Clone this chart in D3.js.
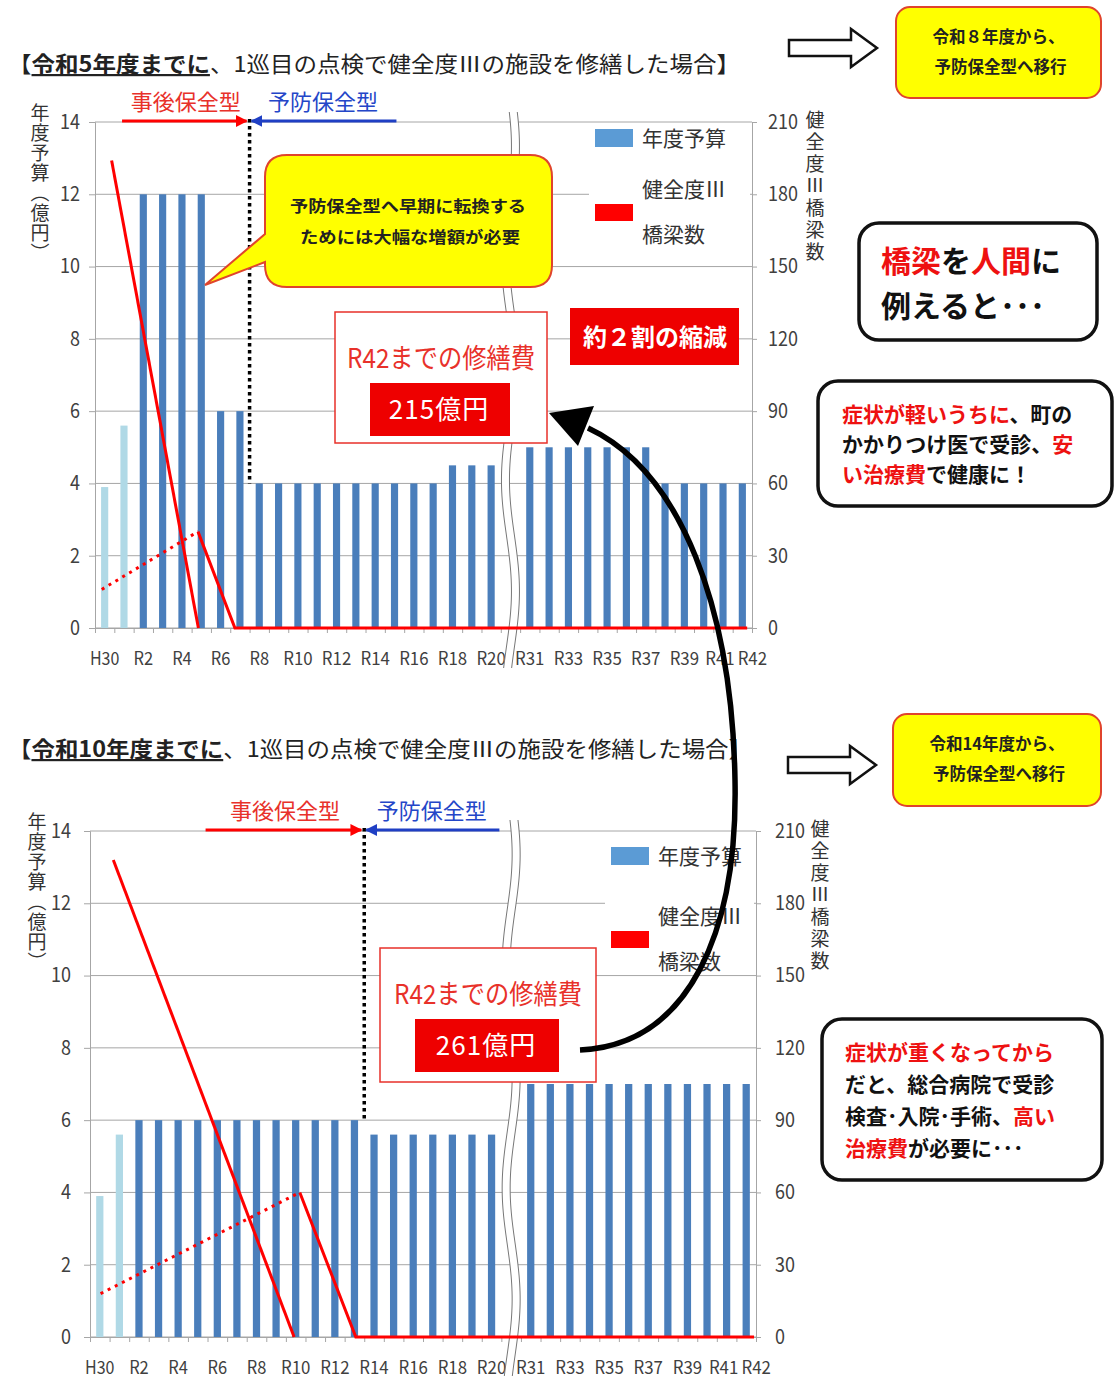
<!DOCTYPE html>
<html><head><meta charset="utf-8">
<script src="https://cdn.jsdelivr.net/npm/d3@7"></script>
<style>
body{margin:0;background:#fff;}
svg text{font-family:"Noto Sans CJK JP","Noto Sans",sans-serif;}
</style></head><body>
<svg id="c" width="1114" height="1380"></svg>
<script>
// ---------- DATA ----------
const categories = ["H30","R1","R2","R3","R4","R5","R6","R7","R8","R9","R10","R11","R12","R13","R14","R15","R16","R17","R18","R19","R20","～",
  "R31","R32","R33","R34","R35","R36","R37","R38","R39","R40","R41","R42"];
const tickLabels = ["H30","R2","R4","R6","R8","R10","R12","R14","R16","R18","R20","R31","R33","R35","R37","R39","R41","R42"];
const lightCategories = ["H30","R1"];
const leftTicks = [0,2,4,6,8,10,12,14];
const rightTicks = [0,30,60,90,120,150,180,210];

// 年度予算 (億円)  – top scenario (令和5年度までに修繕)
const topBudget = [3.9,5.6,12,12,12,12,6,6,4,4,4,4,4,4,4,4,4,4,4.5,4.5,4.5,null,5,5,5,5,5,5,5,4,4,4,4,4];
// 年度予算 (億円)  – bottom scenario (令和10年度までに修繕)
const bottomBudget = [3.9,5.6,6,6,6,6,6,6,6,6,6,6,6,6,5.6,5.6,5.6,5.6,5.6,5.6,5.6,null,7,7,7,7,7,7,7,7,7,7,7,7];

// 健全度Ⅲ橋梁数 (position in category slots, value)
const topBridgeSolidPos = [0.86, 5.35],  topBridgeSolidVal = [194, 0];
const topBridgeDotPos   = [0.35, 5.33],  topBridgeDotVal   = [16, 40];
const topBridgeAfterPos = [5.33, 7.24, 33.75], topBridgeAfterVal = [40, 0, 0];
const botBridgeSolidPos = [1.19, 10.42], botBridgeSolidVal = [198, 0];
const botBridgeDotPos   = [0.54, 10.71], botBridgeDotVal   = [18, 60];
const botBridgeAfterPos = [10.71, 13.57, 33.9], botBridgeAfterVal = [60, 0, 0];

// switch from 事後保全型 to 予防保全型 (slot boundary) and arrow extents
const topSwitch = {slot: 8, value: 4, redFrom: 1.4, blueTo: 15.6};
const botSwitch = {slot: 14, value: 6, redFrom: 5.9, blueTo: 20.9};

// ---------- DRAW ----------
const svg = d3.select("#c");
const RED = "#ff0000", BLUE = "#4a7ebb", LIGHT = "#b0d9e6", LEG_BLUE = "#5b9bd5", GRID = "#a6a6a6";
const defs = svg.append("defs");
function marker(id, color){
  defs.append("marker").attr("id",id).attr("viewBox","0 0 10 10").attr("refX",9).attr("refY",5)
    .attr("markerWidth",4).attr("markerHeight",4).attr("orient","auto")
    .append("path").attr("d","M0,0L10,5L0,10Z").attr("fill",color);
}
marker("arrRed", RED); marker("arrBlue", "#1f3fc4");

function vText(x, y, str, size, spacing){
  svg.append("text").attr("x",x).attr("y",y).attr("font-size",size)
    .attr("fill","#333").style("writing-mode","vertical-rl").style("letter-spacing",spacing+"px").text(str);
}

function drawChart(cfg){
  const g = svg.append("g");
  const n = categories.length;
  const x = d3.scaleBand().domain(categories).range([cfg.x0,cfg.x1]).paddingInner(0.63).paddingOuter(0.315);
  const xs = d3.scaleLinear().domain([0,n]).range([cfg.x0,cfg.x1]);
  const yL = d3.scaleLinear().domain([0,14]).range([cfg.yB,cfg.yT]);
  const yR = d3.scaleLinear().domain([0,210]).range([cfg.yB,cfg.yT]);

  // gridlines
  g.selectAll(".grid").data(leftTicks).join("line")
    .attr("x1",cfg.x0).attr("x2",cfg.x1).attr("y1",d=>yL(d)).attr("y2",d=>yL(d))
    .attr("stroke",GRID).attr("stroke-width",1);

  // axes
  const la = g.append("g").attr("transform",`translate(${cfg.x0},0)`)
    .call(d3.axisLeft(yL).tickValues(leftTicks).tickSize(6).tickPadding(cfg.lPad));
  const ra = g.append("g").attr("transform",`translate(${cfg.x1},0)`)
    .call(d3.axisRight(yR).tickValues(rightTicks).tickSize(5).tickPadding(cfg.rPad));
  const ba = g.append("g").attr("transform",`translate(0,${cfg.yB})`)
    .call(d3.axisBottom(xs).tickValues(d3.range(0,n+1)).tickSize(5).tickFormat(""));
  [la,ra,ba].forEach(a=>{
    a.attr("font-size",20).attr("font-family",null);
    a.selectAll("path,line").attr("stroke",GRID);
    a.selectAll("text").attr("fill","#404040");
  });
  ra.selectAll("text").attr("textLength",function(){return this.textContent.length*10;}).attr("lengthAdjust","spacingAndGlyphs");
  la.selectAll("text").attr("textLength",function(){return this.textContent.length*10;}).attr("lengthAdjust","spacingAndGlyphs");
  const labShift = {"R41":-3, "R42":10};
  g.selectAll(".cat").data(tickLabels).join("text")
    .attr("x",d=>x(d)+x.bandwidth()/2+(labShift[d]||0)).attr("y",cfg.yB+37)
    .attr("text-anchor","middle").attr("font-size",18).attr("fill","#404040")
    .attr("textLength",d=>d.length*9.8).attr("lengthAdjust","spacingAndGlyphs").text(d=>d);

  // legend background and legend
  g.append("rect").attr("x",cfg.leg.x-6).attr("y",cfg.leg.y-4).attr("width",cfg.x1-cfg.leg.x+4)
    .attr("height",cfg.leg.h).attr("fill","#fff");
  g.append("rect").attr("x",cfg.leg.x).attr("y",cfg.leg.y).attr("width",38).attr("height",18).attr("fill",LEG_BLUE);
  g.append("text").attr("x",cfg.leg.x+47).attr("y",cfg.leg.y+17).attr("font-size",21).attr("fill","#333").text("年度予算");
  g.append("rect").attr("x",cfg.leg.x).attr("y",cfg.leg.y+cfg.leg.dr).attr("width",38).attr("height",17).attr("fill",RED);
  g.append("text").attr("x",cfg.leg.x+47).attr("y",cfg.leg.y+cfg.leg.dr-7).attr("font-size",21).attr("fill","#333").text("健全度Ⅲ");
  g.append("text").attr("x",cfg.leg.x+47).attr("y",cfg.leg.y+cfg.leg.dr+38).attr("font-size",21).attr("fill","#333").text("橋梁数");

  // bars
  g.selectAll(".bar").data(categories.map((c,i)=>({c, v:cfg.budget[i]})).filter(d=>d.v!=null)).join("rect")
    .attr("x",d=>x(d.c)).attr("width",x.bandwidth())
    .attr("y",d=>yL(d.v)).attr("height",d=>cfg.yB-yL(d.v))
    .attr("fill",d=>lightCategories.includes(d.c)?LIGHT:BLUE);

  // axis break (double wavy line)
  const xc = x("～")+x.bandwidth()/2;
  const pts = d3.range(cfg.breakY0, cfg.breakY1+1, 4);
  const wav = y => xc + 5*Math.sin((y-cfg.breakY0)/(cfg.breakY1-cfg.breakY0)*Math.PI*5 + 0.6);
  const left = pts.map(y=>[wav(y)-4,y]), right = pts.map(y=>[wav(y)+4,y]);
  g.append("path").attr("d",d3.line()(left.concat(right.slice().reverse()))+"Z").attr("fill","#fff");
  g.append("path").attr("d",d3.line()(left)).attr("fill","none").attr("stroke","#777").attr("stroke-width",1);
  g.append("path").attr("d",d3.line()(right)).attr("fill","none").attr("stroke","#777").attr("stroke-width",1);

  // 健全度Ⅲ橋梁数 lines
  const ln = d3.line().x(d=>xs(d[0])).y(d=>yR(d[1]));
  const zip = (p,v)=>p.map((d,i)=>[d,v[i]]);
  g.append("path").attr("d",ln(zip(cfg.solidPos,cfg.solidVal))).attr("fill","none").attr("stroke",RED).attr("stroke-width",3);
  g.append("path").attr("d",ln(zip(cfg.dotPos,cfg.dotVal))).attr("fill","none").attr("stroke",RED)
    .attr("stroke-width",3).attr("stroke-dasharray","3,5");
  g.append("path").attr("d",ln(zip(cfg.afterPos,cfg.afterVal))).attr("fill","none").attr("stroke",RED)
    .attr("stroke-width",3).attr("stroke-linejoin","miter");

  // switch dotted line
  const sx = xs(cfg.sw.slot);
  g.append("line").attr("x1",sx).attr("x2",sx).attr("y1",yL(14)-3).attr("y2",yL(cfg.sw.value))
    .attr("stroke","#000").attr("stroke-width",3.5).attr("stroke-dasharray","3.5,3.5");
  // arrows 事後保全型 / 予防保全型
  const ay = yL(14)-1;
  g.append("line").attr("x1",xs(cfg.sw.redFrom)).attr("x2",sx-3).attr("y1",ay).attr("y2",ay)
    .attr("stroke",RED).attr("stroke-width",3).attr("marker-end","url(#arrRed)");
  g.append("line").attr("x1",xs(cfg.sw.blueTo)).attr("x2",sx+2).attr("y1",ay).attr("y2",ay)
    .attr("stroke","#1f3fc4").attr("stroke-width",3).attr("marker-end","url(#arrBlue)");
  g.append("text").attr("x",(xs(cfg.sw.redFrom)+sx)/2).attr("y",ay-11).attr("text-anchor","middle")
    .attr("font-size",22).attr("fill","#e8312a").text("事後保全型");
  g.append("text").attr("x",(xs(cfg.sw.blueTo)+sx)/2).attr("y",ay-11).attr("text-anchor","middle")
    .attr("font-size",22).attr("fill","#2446c8").text("予防保全型");

  // cost box
  const b = cfg.cost;
  g.append("rect").attr("x",b.x).attr("y",b.y).attr("width",b.w).attr("height",b.h)
    .attr("fill","#fff").attr("stroke","#e8312a").attr("stroke-width",1.5);
  g.append("text").attr("x",b.x+b.w/2).attr("y",b.y+56).attr("text-anchor","middle").attr("font-size",27)
    .attr("fill","#e8312a").attr("textLength",188).attr("lengthAdjust","spacingAndGlyphs").text("R42までの修繕費");
  g.append("rect").attr("x",b.x+35).attr("y",b.y+71).attr("width",b.w-72).attr("height",53).attr("fill","#ee0000");
  g.append("text").attr("x",b.x+b.w/2-2).attr("y",b.y+107).attr("text-anchor","middle").attr("font-size",26)
    .attr("fill","#fff").attr("letter-spacing",1).text(b.label);

  // left/right axis titles
  vText(cfg.lTitleX, cfg.yT-19, "年度予算（億円）", 19, 1);
  vText(cfg.rTitleX, cfg.yT-12, "健全度Ⅲ橋梁数", 19, 3);
  return {x, xs, yL, yR};
}

// titles
function title(y, bold, rest, len){
  const t = svg.append("text").attr("x",8).attr("y",y).attr("font-size",22).attr("fill","#222")
    .attr("textLength",len).attr("lengthAdjust","spacingAndGlyphs");
  t.append("tspan").text("【");
  t.append("tspan").attr("font-weight","bold").style("text-decoration","underline").text(bold);
  t.append("tspan").text(rest);
}
title(72, "令和5年度までに", "、1巡目の点検で健全度Ⅲの施設を修繕した場合】", 732);
title(757, "令和10年度までに", "、1巡目の点検で健全度Ⅲの施設を修繕した場合】", 744);

drawChart({x0:95, x1:752, yT:122, yB:628, lPad:9, rPad:11, budget:topBudget,
  solidPos:topBridgeSolidPos, solidVal:topBridgeSolidVal, dotPos:topBridgeDotPos, dotVal:topBridgeDotVal,
  afterPos:topBridgeAfterPos, afterVal:topBridgeAfterVal, sw:topSwitch,
  leg:{x:595, y:129, h:128, dr:75}, breakY0:112, breakY1:668,
  cost:{x:335, y:312, w:212, h:131, label:"215億円"}, lTitleX:40, rTitleX:815});
drawChart({x0:90, x1:756, yT:831, yB:1337, lPad:13, rPad:14, budget:bottomBudget,
  solidPos:botBridgeSolidPos, solidVal:botBridgeSolidVal, dotPos:botBridgeDotPos, dotVal:botBridgeDotVal,
  afterPos:botBridgeAfterPos, afterVal:botBridgeAfterVal, sw:botSwitch,
  leg:{x:611, y:847, h:126, dr:84}, breakY0:820, breakY1:1376,
  cost:{x:380, y:948, w:216, h:134, label:"261億円"}, lTitleX:37, rTitleX:820});

// callout (top chart)
svg.append("path").attr("d","M287,155H530Q552,155 552,177V265Q552,287 530,287H287Q265,287 265,265V262L205,285L265,234V177Q265,155 287,155Z")
  .attr("fill","#ffff00").attr("stroke","#e0442c").attr("stroke-width",2);
svg.append("text").attr("x",408).attr("y",212).attr("text-anchor","middle").attr("font-size",15.5).attr("font-weight","bold")
  .attr("fill","#222").attr("textLength",236).attr("lengthAdjust","spacingAndGlyphs").text("予防保全型へ早期に転換する");
svg.append("text").attr("x",410).attr("y",243).attr("text-anchor","middle").attr("font-size",15.5).attr("font-weight","bold")
  .attr("fill","#222").attr("textLength",220).attr("lengthAdjust","spacingAndGlyphs").text("ためには大幅な増額が必要");

// 約2割の縮減
svg.append("rect").attr("x",570).attr("y",308).attr("width",169).attr("height",57).attr("fill","#ee0000");
svg.append("text").attr("x",655).attr("y",346).attr("text-anchor","middle").attr("font-size",24).attr("font-weight","bold")
  .attr("fill","#fff").text("約２割の縮減");

// hollow arrows + yellow boxes
function hollowArrow(x0, cy){
  const d = `M${x0},${cy-8}H${x0+62}V${cy-19}L${x0+88},${cy}L${x0+62},${cy+19}V${cy+8}H${x0}Z`;
  svg.append("path").attr("d",d).attr("fill","#fff").attr("stroke","#111").attr("stroke-width",2.5);
}
hollowArrow(789, 48); hollowArrow(788, 765);
function yellowBox(x,y,w,h,l1,l2){
  svg.append("rect").attr("x",x).attr("y",y).attr("width",w).attr("height",h).attr("rx",14)
    .attr("fill","#ffff00").attr("stroke","#e0442c").attr("stroke-width",2);
  svg.append("text").attr("x",x+w/2).attr("y",y+36).attr("text-anchor","middle").attr("font-size",16.5)
    .attr("font-weight","bold").attr("fill","#222").text(l1);
  svg.append("text").attr("x",x+w/2+2).attr("y",y+66).attr("text-anchor","middle").attr("font-size",16.5)
    .attr("font-weight","bold").attr("fill","#222").text(l2);
}
yellowBox(896, 7, 205, 91, "令和８年度から、", "予防保全型へ移行");
yellowBox(893, 714, 208, 92, "令和14年度から、", "予防保全型へ移行");

// black bordered boxes
function richBox(x,y,w,h,lines,size,tx,ty0,lh){
  svg.append("rect").attr("x",x).attr("y",y).attr("width",w).attr("height",h).attr("rx",20)
    .attr("fill","#fff").attr("stroke","#111").attr("stroke-width",3.5);
  lines.forEach((segs,i)=>{
    const t = svg.append("text").attr("x",tx).attr("y",ty0+i*lh).attr("font-size",size).attr("font-weight","bold");
    segs.forEach(s=>t.append("tspan").attr("fill",s[1]?"#ee1111":"#111").text(s[0]));
  });
}
richBox(859, 223, 238, 117, [[["橋梁",1],["を",0],["人間",1],["に",0]],[["例えると･･･",0]]], 30, 881, 272, 45);
richBox(818, 381, 294, 125, [[["症状が軽いうちに",1],["、町の",0]],[["かかりつけ医で受診、",0],["安",1]],[["い治療費",1],["で健康に！",0]]],
  21, 842, 422, 30);
richBox(822, 1019, 280, 161, [[["症状が重くなってから",1]],[["だと、総合病院で受診",0]],[["検査･入院･手術、",0],["高い",1]],[["治療費",1],["が必要に･･･",0]]],
  21, 845, 1060, 32);

// big curved arrow
svg.append("path").attr("d","M580,1050C690,1045 738,930 735,780C732,610 682,472 588,428")
  .attr("fill","none").attr("stroke","#000").attr("stroke-width",5.5);
svg.append("path").attr("d","M549,413L594,406L578,446Z").attr("fill","#000");
</script>
</body></html>
